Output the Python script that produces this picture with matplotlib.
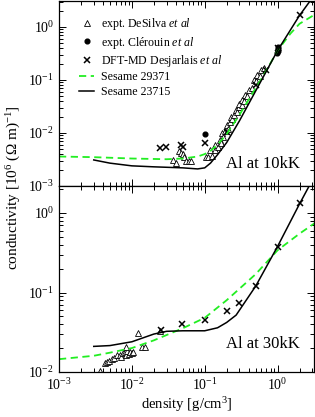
import numpy as np
import matplotlib
matplotlib.use("Agg")
import matplotlib.pyplot as plt
from matplotlib.ticker import LogLocator, NullFormatter

plt.rcParams['font.family'] = ['Liberation Serif', 'DejaVu Serif']
plt.rcParams['mathtext.fontset'] = 'custom'
plt.rcParams['mathtext.rm'] = 'Liberation Serif'
plt.rcParams['mathtext.it'] = 'Liberation Serif:italic'
plt.rcParams['mathtext.bf'] = 'Liberation Serif:bold'

# ---------------- data: 10 kK panel ----------------
s23715_10_x = [0.003, 0.005, 0.01, 0.02, 0.05, 0.08, 0.1, 0.12, 0.15, 0.2, 0.3, 0.5, 1.0, 2.0, 3.2]
s23715_10_y = [0.0031, 0.0027, 0.0024, 0.0023, 0.0022, 0.0021, 0.0022, 0.0027, 0.0039, 0.0066, 0.017, 0.062, 0.36, 1.65, 4.0]

s29371_10_x = [0.001, 0.003, 0.01, 0.03, 0.05, 0.08, 0.1, 0.12, 0.15, 0.2, 0.3, 0.5, 0.7, 1.0, 1.5, 2.0, 3.2]
s29371_10_y = [0.0036, 0.0035, 0.0033, 0.0032, 0.0033, 0.0036, 0.0040, 0.0046, 0.0060, 0.0095, 0.022, 0.07, 0.15, 0.36, 0.75, 1.15, 1.7]

desilva_10_x = [0.037, 0.040, 0.045, 0.047, 0.050, 0.052, 0.055, 0.060, 0.065,
                0.105, 0.11, 0.117, 0.125, 0.137, 0.14, 0.15, 0.16, 0.165, 0.175,
                0.18, 0.19, 0.205, 0.21, 0.22, 0.23, 0.24, 0.25, 0.265, 0.28,
                0.30, 0.30, 0.32, 0.33, 0.35, 0.36, 0.38, 0.41, 0.44, 0.47,
                0.50, 0.53, 0.57, 0.60, 0.65]
desilva_10_y = [0.0031, 0.0027, 0.0046, 0.0042, 0.0040, 0.0036, 0.0030, 0.0030, 0.0029,
                0.0036, 0.0036, 0.0048, 0.0037, 0.0060, 0.0048, 0.0055, 0.0074, 0.0065, 0.0100,
                0.0085, 0.011, 0.014, 0.012, 0.016, 0.020, 0.018, 0.022, 0.027, 0.025,
                0.031, 0.036, 0.034, 0.042, 0.040, 0.052, 0.050, 0.065, 0.070, 0.100,
                0.095, 0.125, 0.120, 0.155, 0.170]

clerouin_10_x = [0.1, 0.98, 1.0, 1.0, 1.02]
clerouin_10_y = [0.0096, 0.33, 0.36, 0.39, 0.42]

desjarlais_10_x = [0.024, 0.029, 0.048, 0.050, 0.1, 0.2, 0.5, 0.7, 1.0, 2.0]
desjarlais_10_y = [0.0051, 0.0055, 0.0060, 0.0054, 0.0064, 0.0106, 0.08, 0.155, 0.40, 1.7]

# ---------------- data: 30 kK panel ----------------
s23715_30_x = [0.003, 0.005, 0.01, 0.02, 0.03, 0.05, 0.1, 0.15, 0.2, 0.27, 0.5, 1.0, 2.0, 3.2]
s23715_30_y = [0.021, 0.0215, 0.024, 0.030, 0.0325, 0.033, 0.033, 0.036, 0.042, 0.052, 0.12, 0.38, 1.3, 2.9]

s29371_30_x = [0.001, 0.003, 0.005, 0.01, 0.02, 0.05, 0.1, 0.2, 0.5, 1.0, 2.0, 3.2]
s29371_30_y = [0.0145, 0.016, 0.0175, 0.020, 0.025, 0.0355, 0.048, 0.08, 0.17, 0.34, 0.55, 0.74]

desilva_30_x = [0.0036, 0.0043, 0.0046, 0.0049, 0.0053, 0.0057, 0.0063, 0.0068, 0.0072,
                0.0076, 0.0080, 0.0083, 0.0087, 0.0090, 0.0094, 0.0099, 0.0104, 0.0084,
                0.0122, 0.0139, 0.0150, 0.024]
desilva_30_y = [0.0104, 0.0129, 0.0135, 0.0139, 0.0144, 0.0148, 0.0164, 0.0166, 0.0153,
                0.0172, 0.0180, 0.0164, 0.0185, 0.0170, 0.0180, 0.0172, 0.0176, 0.0208,
                0.0306, 0.0204, 0.0204, 0.0330]

desjarlais_30_x = [0.0255, 0.049, 0.1, 0.2, 0.3, 0.5, 1.0, 2.0]
desjarlais_30_y = [0.0337, 0.040, 0.045, 0.058, 0.074, 0.12, 0.37, 1.35]

x_ticks = [1e-3, 1e-2, 1e-1, 1e0]

# ---------------- figure ----------------
fig = plt.figure(figsize=(3.15, 4.17), dpi=100)
W, H = 315.0, 417.0
left = 59 / W
width = (314 - 59) / W
ax1 = fig.add_axes([left, 1 - 186 / H, width, 185.5 / H])
ax2 = fig.add_axes([left, 1 - 372 / H, width, 186 / H])

green = '#22ee22'
tri_kw = dict(ls='none', marker='^', ms=3.8, mfc='white', mec='black', mew=0.6)
circ_kw = dict(ls='none', marker='o', ms=3.4, mfc='black', mec='black')
x_kw = dict(ls='none', marker='x', ms=4.6, mew=1.1, color='black')

def style(ax):
    ax.set_xscale('log')
    ax.set_yscale('log')
    ax.set_xlim(1e-3, 10 ** 0.5)
    ax.tick_params(which='both', direction='in', top=True, right=True, labelsize=10, width=0.7)
    ax.tick_params(which='major', length=5)
    ax.tick_params(which='minor', length=2.8)
    ax.xaxis.set_major_locator(LogLocator(base=10, numticks=10))
    ax.xaxis.set_minor_locator(LogLocator(base=10, subs=np.arange(2, 10), numticks=20))
    ax.yaxis.set_minor_locator(LogLocator(base=10, subs=np.arange(2, 10), numticks=20))
    ax.yaxis.set_minor_formatter(NullFormatter())
    ax.xaxis.set_minor_formatter(NullFormatter())
    for s in ax.spines.values():
        s.set_linewidth(0.9)

# top panel
ax1.plot(desilva_10_x, desilva_10_y, label=r'expt. DeSilva $\mathit{et\ al}$', **tri_kw)
ax1.plot(clerouin_10_x, clerouin_10_y, label=r'expt. Clérouin $\mathit{et\ al}$', **circ_kw)
ax1.plot(desjarlais_10_x, desjarlais_10_y, label=r'DFT-MD Desjarlais $\mathit{et\ al}$', **x_kw)
ax1.plot(s29371_10_x, s29371_10_y, color=green, lw=1.3, ls=(0, (4, 2.5)), label='Sesame 29371')
ax1.plot(s23715_10_x, s23715_10_y, color='black', lw=1.1, label='Sesame 23715')
style(ax1)
ax1.set_ylim(1e-3, 10 ** 0.5)
ax1.set_xticks(x_ticks)
ax1.tick_params(labelbottom=False)
ax1.text(0.945, 0.095, 'Al at 10kK', transform=ax1.transAxes, ha='right', va='baseline', fontsize=12)
ax1.legend(loc='upper left', bbox_to_anchor=(0.08, 0.915), frameon=False, fontsize=8.6,
           handlelength=1.2, handletextpad=0.6, labelspacing=0.2, borderpad=0, borderaxespad=0,
           numpoints=1)

# bottom panel
ax2.plot(desilva_30_x, desilva_30_y, **tri_kw)
ax2.plot(desjarlais_30_x, desjarlais_30_y, **x_kw)
ax2.plot(s29371_30_x, s29371_30_y, color=green, lw=1.3, ls=(0, (4, 2.5)))
ax2.plot(s23715_30_x, s23715_30_y, color='black', lw=1.1)
style(ax2)
ax2.set_ylim(1e-2, 10 ** 0.34)
ax2.set_xticks(x_ticks)
ax2.text(0.945, 0.13, 'Al at 30kK', transform=ax2.transAxes, ha='right', va='baseline', fontsize=12)
ax2.set_xlabel('density [g/cm$^3$]', fontsize=10.5, labelpad=2)

fig.text(0.045, 0.55, 'conductivity [10$^6$ (Ω m)$^{-1}$]', rotation=90, ha='center', va='center', fontsize=11)

fig.savefig('out.png', dpi=100)
